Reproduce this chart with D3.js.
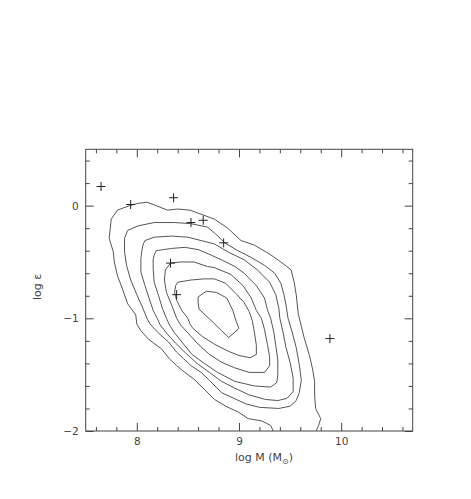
<!DOCTYPE html>
<html>
<head>
<meta charset="utf-8">
<script src="https://cdn.jsdelivr.net/npm/d3@7"></script>
<style>
  body { margin: 0; background: #fff; }
  text { font-family: "DejaVu Sans", sans-serif; fill: #444; }
</style>
</head>
<body>
<div id="container"></div>
<script>
const WIDTH = 471;
const HEIGHT = 499;

// axis ranges and ticks
const xDomain = [7.5, 10.7];
const yDomain = [-2, 0.5];
const xMajor = [8, 9, 10];
const yMajor = [-2, -1, 0];
const xMinor = [7.6, 7.8, 8.2, 8.4, 8.6, 8.8, 9.2, 9.4, 9.6, 9.8, 10.2, 10.4, 10.6];
const yMinor = [-1.8, -1.6, -1.4, -1.2, -0.8, -0.6, -0.4, -0.2, 0.2, 0.4];

// individual objects (+)
const points = [
  [7.65, 0.17], [7.94, 0.01], [8.36, 0.07], [8.53, -0.15], [8.65, -0.13],
  [8.85, -0.33], [8.33, -0.51], [8.39, -0.79], [9.89, -1.18],
];

// density contours, outermost first (first one runs off the bottom edge)
const contour1 = [
  [9.35, -2.03], [9.31, -1.95], [9.22, -1.91], [9.09, -1.89], [8.99, -1.83], [8.87, -1.78],
  [8.76, -1.72], [8.65, -1.62], [8.56, -1.54], [8.47, -1.48], [8.39, -1.42], [8.32, -1.36],
  [8.24, -1.27], [8.12, -1.19], [8.04, -1.11], [8.0, -1.05], [7.99, -0.97], [7.91, -0.87],
  [7.86, -0.74], [7.81, -0.62], [7.78, -0.5], [7.77, -0.41], [7.73, -0.29], [7.75, -0.12],
  [7.81, -0.04], [7.93, 0.0], [8.01, 0.02], [8.1, 0.03], [8.19, 0.0], [8.3, -0.04],
  [8.4, -0.03], [8.52, -0.04], [8.61, -0.07], [8.76, -0.12], [8.89, -0.2], [9.02, -0.31],
  [9.15, -0.35], [9.3, -0.43], [9.41, -0.5], [9.51, -0.57], [9.54, -0.68], [9.56, -0.79],
  [9.58, -0.96], [9.61, -1.07], [9.64, -1.18], [9.69, -1.33], [9.72, -1.45], [9.74, -1.56],
  [9.74, -1.68], [9.75, -1.8], [9.8, -1.89], [9.78, -1.95], [9.74, -2.03],
];
const contour2 = [
  [7.88, -0.29], [7.91, -0.22], [8.01, -0.18], [8.17, -0.15], [8.37, -0.15], [8.53, -0.16],
  [8.69, -0.19], [8.77, -0.25], [8.86, -0.33], [8.99, -0.4], [9.12, -0.46], [9.25, -0.53],
  [9.35, -0.6], [9.41, -0.69], [9.44, -0.79], [9.46, -0.88], [9.48, -1.0], [9.52, -1.12],
  [9.56, -1.26], [9.59, -1.41], [9.61, -1.55], [9.59, -1.66], [9.56, -1.73], [9.5, -1.78],
  [9.39, -1.8], [9.2, -1.79], [9.07, -1.76], [8.95, -1.71], [8.83, -1.66], [8.71, -1.55],
  [8.63, -1.48], [8.53, -1.42], [8.46, -1.36], [8.39, -1.3], [8.31, -1.21], [8.2, -1.12],
  [8.13, -1.05], [8.1, -1.0], [8.05, -0.89], [8.0, -0.79], [7.94, -0.66], [7.9, -0.53],
  [7.88, -0.41],
];
const contour3 = [
  [8.06, -0.35], [8.08, -0.31], [8.17, -0.28], [8.34, -0.27], [8.5, -0.28], [8.63, -0.31],
  [8.76, -0.34], [8.89, -0.41], [9.05, -0.48], [9.18, -0.57], [9.3, -0.68], [9.36, -0.79],
  [9.39, -0.91], [9.4, -1.0], [9.43, -1.12], [9.46, -1.26], [9.5, -1.39], [9.53, -1.53],
  [9.53, -1.65], [9.47, -1.71], [9.38, -1.73], [9.26, -1.72], [9.1, -1.68], [8.96, -1.62],
  [8.83, -1.56], [8.71, -1.48], [8.59, -1.4], [8.48, -1.31], [8.38, -1.22], [8.29, -1.13],
  [8.23, -1.06], [8.2, -1.0], [8.16, -0.93], [8.12, -0.82], [8.08, -0.71], [8.04, -0.59],
  [8.04, -0.47], [8.05, -0.4],
];
const contour4 = [
  [8.17, -0.44], [8.19, -0.4], [8.26, -0.39], [8.34, -0.38], [8.47, -0.37], [8.6, -0.39],
  [8.73, -0.44], [8.85, -0.49], [8.96, -0.54], [9.05, -0.6], [9.17, -0.71], [9.25, -0.82],
  [9.28, -0.93], [9.31, -1.0], [9.34, -1.12], [9.36, -1.24], [9.38, -1.37], [9.38, -1.5],
  [9.37, -1.57], [9.31, -1.61], [9.15, -1.6], [8.96, -1.56], [8.79, -1.48], [8.66, -1.4],
  [8.54, -1.32], [8.45, -1.22], [8.37, -1.13], [8.32, -1.06], [8.29, -1.0], [8.25, -0.91],
  [8.21, -0.79], [8.17, -0.68], [8.16, -0.56], [8.16, -0.48],
];
const contour5 = [
  [8.28, -0.57], [8.33, -0.51], [8.43, -0.5], [8.56, -0.5], [8.69, -0.54], [8.76, -0.55],
  [8.92, -0.61], [9.04, -0.71], [9.12, -0.82], [9.17, -0.93], [9.22, -1.0], [9.25, -1.1],
  [9.28, -1.24], [9.3, -1.34], [9.3, -1.42], [9.25, -1.48], [9.1, -1.48], [8.96, -1.44],
  [8.83, -1.39], [8.71, -1.32], [8.59, -1.22], [8.5, -1.13], [8.43, -1.06], [8.39, -1.0],
  [8.34, -0.88], [8.29, -0.77], [8.27, -0.66],
];
const contour6 = [
  [8.38, -0.71], [8.4, -0.68], [8.53, -0.66], [8.66, -0.65], [8.76, -0.65], [8.87, -0.69],
  [8.97, -0.78], [9.05, -0.86], [9.1, -0.94], [9.13, -1.02], [9.15, -1.12], [9.17, -1.24],
  [9.17, -1.32], [9.11, -1.35], [9.0, -1.33], [8.89, -1.29], [8.76, -1.23], [8.64, -1.16],
  [8.55, -1.09], [8.52, -1.05], [8.5, -1.0], [8.44, -0.93], [8.39, -0.84], [8.37, -0.77],
];
const contour7 = [
  [8.6, -0.81], [8.68, -0.76], [8.78, -0.77], [8.88, -0.82], [8.94, -0.93], [8.97, -1.02],
  [9.0, -1.09], [8.9, -1.17], [8.83, -1.11], [8.74, -1.03], [8.61, -0.92], [8.6, -0.86],
];

const contours = [
  { pts: contour1, closed: false },
  { pts: contour2, closed: true },
  { pts: contour3, closed: true },
  { pts: contour4, closed: true },
  { pts: contour5, closed: true },
  { pts: contour6, closed: true },
  { pts: contour7, closed: true },
];

const x = d3.scaleLinear().domain(xDomain).range([85.7, 412.7]);
const y = d3.scaleLinear().domain(yDomain).range([431, 149.3]);

const svg = d3
  .select("#container")
  .append("svg")
  .attr("width", WIDTH)
  .attr("height", HEIGHT);

svg
  .append("clipPath")
  .attr("id", "plot-clip")
  .append("rect")
  .attr("x", x(xDomain[0]))
  .attr("y", y(yDomain[1]))
  .attr("width", x(xDomain[1]) - x(xDomain[0]))
  .attr("height", y(yDomain[0]) - y(yDomain[1]));

const line = d3
  .line()
  .x((d) => x(d[0]))
  .y((d) => y(d[1]));

svg
  .append("g")
  .attr("clip-path", "url(#plot-clip)")
  .selectAll("path")
  .data(contours)
  .enter()
  .append("path")
  .attr("d", (c) => line(c.pts) + (c.closed ? "Z" : ""))
  .attr("fill", "none")
  .attr("stroke", "#555")
  .attr("stroke-width", 1);

svg
  .append("g")
  .selectAll("path")
  .data(points)
  .enter()
  .append("path")
  .attr("transform", (d) => `translate(${x(d[0])},${y(d[1])})`)
  .attr("d", "M-4.5,0H4.5M0,-4.5V4.5")
  .attr("stroke", "#222")
  .attr("stroke-width", 1);

// ticks on all four sides, pointing inward
const addAxis = (axisFn, scale, values, size, transform, labels) => {
  const g = svg
    .append("g")
    .attr("transform", transform)
    .call(
      axisFn(scale)
        .tickValues(values)
        .tickSize(-size)
        .tickPadding(labels ? 7 : 0)
        .tickFormat(labels ? (d) => (d < 0 ? "\u2212" + Math.abs(d) : d) : "")
    );
  g.select(".domain").remove();
  g.selectAll("line").attr("stroke", "#444");
  g.selectAll("text")
    .attr("fill", "#444")
    .style("font-size", "10.5px")
    .style("font-family", "DejaVu Sans, sans-serif");
  return g;
};

const atBottom = `translate(0,${y(yDomain[0])})`;
const atTop = `translate(0,${y(yDomain[1])})`;
const atLeft = `translate(${x(xDomain[0])},0)`;
const atRight = `translate(${x(xDomain[1])},0)`;

addAxis(d3.axisBottom, x, xMinor, 4, atBottom, false);
addAxis(d3.axisBottom, x, xMajor, 8, atBottom, true);
addAxis(d3.axisTop, x, xMinor, 4, atTop, false);
addAxis(d3.axisTop, x, xMajor, 8, atTop, false);
addAxis(d3.axisLeft, y, yMinor, 4, atLeft, false);
addAxis(d3.axisLeft, y, yMajor, 8, atLeft, true);
addAxis(d3.axisRight, y, yMinor, 4, atRight, false);
addAxis(d3.axisRight, y, yMajor, 8, atRight, false);

svg
  .append("rect")
  .attr("x", x(xDomain[0]))
  .attr("y", y(yDomain[1]))
  .attr("width", x(xDomain[1]) - x(xDomain[0]))
  .attr("height", y(yDomain[0]) - y(yDomain[1]))
  .attr("fill", "none")
  .attr("stroke", "#444")
  .attr("stroke-width", 1);

// axis titles
const xTitle = svg
  .append("text")
  .attr("x", 264)
  .attr("y", 461)
  .attr("text-anchor", "middle")
  .style("font-size", "11px");
xTitle.append("tspan").text("log M (M");
xTitle.append("tspan").attr("dy", 3).style("font-size", "8px").text("\u2299");
xTitle.append("tspan").attr("dy", -3).text(")");

svg
  .append("text")
  .attr("transform", "rotate(-90)")
  .attr("x", -287)
  .attr("y", 41)
  .attr("text-anchor", "middle")
  .style("font-size", "11px")
  .text("log \u03b5");
</script>
</body>
</html>
